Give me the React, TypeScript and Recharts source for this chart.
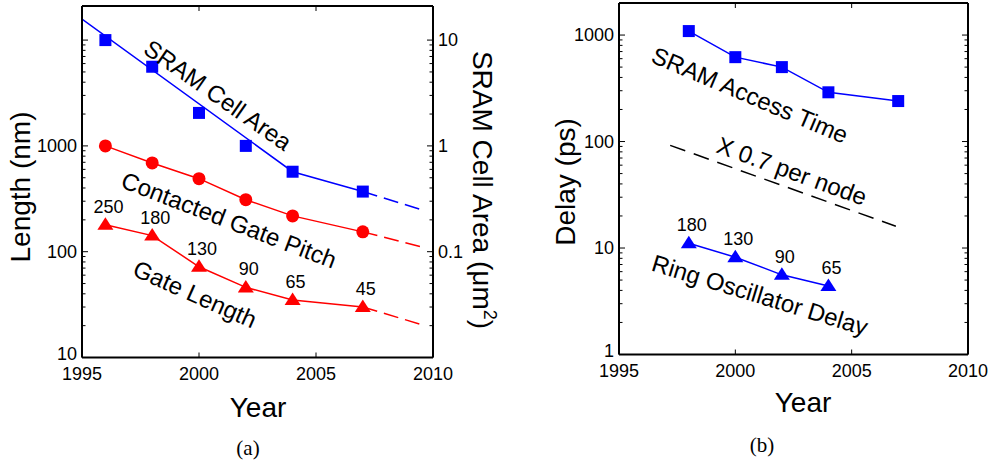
import React from 'react';
import { LineChart, Line, XAxis, YAxis, LabelList } from 'recharts';

const FONT = '"Liberation Sans", Arial, Helvetica, sans-serif';

// (a) scaling of lengths and SRAM cell area
const nodeYears = [1996, 1998, 2000, 2002, 2004, 2007];
const sramCellArea = [10, 5.6, 2.05, 1.0, 0.57, 0.37]; // um^2
const sramFitYears = [1995, 2004, 2007];
const sramFitArea = [15.8, 0.57, 0.37];
const projYears = [2007, 2009.5];
const sramProjArea = [0.37, 0.25];
const gatePitch = [1000, 690, 490, 310, 218, 154]; // nm
const gatePitchProj = [154, 111];
const gateLength = [180, 142, 72, 46, 35, 30]; // nm
const gateLengthProj = [30, 20.5];
const gateNodes = ['250', '180', '130', '90', '65', '45'];

// (b) delays
const accessYears = [1998, 2000, 2002, 2004, 2007];
const sramAccess = [1090, 620, 500, 290, 240]; // ps
const ringYears = [1998, 2000, 2002, 2004];
const ringDelay = [11.1, 8.2, 5.6, 4.4]; // ps
const ringNodes = ['180', '130', '90', '65'];
const trendYears = [1997.2, 2006.9];
const trendDelay = [92, 16];

const yearTicks = [1995, 2000, 2005, 2010];
const lengthLabels = [10, 100, 1000];
const areaLabels = [0.1, 1, 10];
const delayLabels = [1, 10, 100, 1000];

const pts = (xs: number[], ys: number[], nodes?: string[]) =>
  xs.map((x, i) => ({ x, y: ys[i], node: nodes ? nodes[i] : undefined }));

// 1..9 x 10^k between lo and hi, for log axis tick marks
const logTicks = (lo: number, hi: number) => {
  const out: number[] = [];
  for (let k = Math.floor(Math.log10(lo)); k <= Math.ceil(Math.log10(hi)); k++) {
    for (let m = 1; m < 10; m++) {
      const v = Number((m * Math.pow(10, k)).toPrecision(3));
      if (v >= lo - 1e-9 && v <= hi + 1e-9) out.push(v);
    }
  }
  return out;
};

const isDecade = (v: number) => Math.abs(Math.log10(v) - Math.round(Math.log10(v))) < 1e-6;

const YTick = (props: any) => {
  const { x, y, payload, side, labels } = props;
  const v = payload.value;
  const major = isDecade(v);
  const dir = side === 'left' ? 1 : -1;
  // lowest label sits in the corner next to the year labels, nudge it up a little
  const nudge = labels && v === labels[0] && side === 'left' ? -4 : 0;
  return (
    <g>
      <line x1={x} x2={x + dir * (major ? 6 : 3.5)} y1={y} y2={y} stroke="#000" strokeWidth={1} />
      {major && labels && labels.includes(v) && (
        <text x={x - dir * 5} y={y + nudge} textAnchor={side === 'left' ? 'end' : 'start'}
          dominantBaseline="central" fontSize={18} fontFamily={FONT} fill="#000">
          {String(v)}
        </text>
      )}
    </g>
  );
};

const XTick = (props: any) => {
  const { x, y, payload, top } = props;
  const dir = top ? 1 : -1;
  return (
    <g>
      <line x1={x} x2={x} y1={y} y2={y + dir * 5} stroke="#000" strokeWidth={1} />
      {!top && (
        <text x={x} y={y + 22} textAnchor="middle" fontSize={18} fontFamily={FONT} fill="#000">
          {payload.value}
        </text>
      )}
    </g>
  );
};

const square = (p: any) => (
  <rect key={p.index} x={p.cx - 6} y={p.cy - 6} width={12} height={12} fill="#0000ff" />
);
const circle = (p: any) => <circle key={p.index} cx={p.cx} cy={p.cy} r={6.5} fill="#ff0000" />;
const triangle = (color: string) => (p: any) => (
  <polygon key={p.index}
    points={`${p.cx},${p.cy - 7.5} ${p.cx + 8},${p.cy + 5} ${p.cx - 8},${p.cy + 5}`}
    fill={color} />
);

const axisLine = { stroke: '#000', strokeWidth: 2 };
const labelStyle = { fontSize: 18, fontFamily: FONT, fill: '#000' };

// axes get a 1px band (zero-size axes are not drawn); margins absorb it
function PanelA() {
  return (
    <LineChart width={500} height={463} margin={{ top: 5, right: 66, bottom: 104.5, left: 81 }}>
      <XAxis dataKey="x" type="number" domain={[1995, 2010]} ticks={yearTicks} allowDataOverflow
        height={1} tickSize={0} tickMargin={0} interval={0} axisLine={axisLine} tick={<XTick />} />
      <XAxis xAxisId="top" orientation="top" dataKey="x" type="number" domain={[1995, 2010]}
        ticks={yearTicks} allowDataOverflow height={1} tickSize={0} tickMargin={0} interval={0}
        axisLine={axisLine} tick={<XTick top />} />
      <YAxis scale="log" domain={[10, 21000]} ticks={logTicks(10, 10000)} allowDataOverflow
        width={1} tickSize={0} tickMargin={0} interval={0} axisLine={axisLine}
        tick={<YTick side="left" labels={lengthLabels} />} />
      <YAxis yAxisId="area" orientation="right" scale="log" domain={[0.01, 21]}
        ticks={logTicks(0.01, 10)} allowDataOverflow width={1} tickSize={0} tickMargin={0}
        interval={0} axisLine={axisLine} tick={<YTick side="right" labels={areaLabels} />} />

      <Line yAxisId="area" data={pts(sramFitYears, sramFitArea)} dataKey="y" stroke="#0000ff"
        strokeWidth={1.5} dot={false} isAnimationActive={false} />
      <Line yAxisId="area" data={pts(projYears, sramProjArea)} dataKey="y" stroke="#0000ff"
        strokeWidth={1.5} strokeDasharray="15 7" dot={false} isAnimationActive={false} />
      <Line yAxisId="area" data={pts(nodeYears, sramCellArea)} dataKey="y" stroke="none"
        dot={square} isAnimationActive={false} />

      <Line data={pts(nodeYears, gatePitch)} dataKey="y" stroke="#ff0000" strokeWidth={1.5}
        dot={circle} isAnimationActive={false} />
      <Line data={pts(projYears, gatePitchProj)} dataKey="y" stroke="#ff0000" strokeWidth={1.5}
        strokeDasharray="15 7" dot={false} isAnimationActive={false} />

      <Line data={pts(nodeYears, gateLength, gateNodes)} dataKey="y" stroke="#ff0000"
        strokeWidth={1.5} dot={triangle('#ff0000')} isAnimationActive={false}>
        <LabelList dataKey="node" position="top" offset={12} dx={3} {...labelStyle} />
      </Line>
      <Line data={pts(projYears, gateLengthProj)} dataKey="y" stroke="#ff0000" strokeWidth={1.5}
        strokeDasharray="15 7" dot={false} isAnimationActive={false} />
    </LineChart>
  );
}

function PanelB() {
  return (
    <LineChart width={490} height={463} margin={{ top: 2, right: 21, bottom: 107.5, left: 118 }}>
      <XAxis dataKey="x" type="number" domain={[1995, 2010]} ticks={yearTicks} allowDataOverflow
        height={1} tickSize={0} tickMargin={0} interval={0} axisLine={axisLine} tick={<XTick />} />
      <XAxis xAxisId="top" orientation="top" dataKey="x" type="number" domain={[1995, 2010]}
        ticks={yearTicks} allowDataOverflow height={1} tickSize={0} tickMargin={0} interval={0}
        axisLine={axisLine} tick={<XTick top />} />
      <YAxis scale="log" domain={[1, 2000]} ticks={logTicks(1, 1000)} allowDataOverflow
        width={1} tickSize={0} tickMargin={0} interval={0} axisLine={axisLine}
        tick={<YTick side="left" labels={delayLabels} />} />
      <YAxis yAxisId="mirror" orientation="right" scale="log" domain={[1, 2000]}
        ticks={logTicks(1, 1000)} allowDataOverflow width={1} tickSize={0} tickMargin={0}
        interval={0} axisLine={axisLine} tick={<YTick side="right" />} />

      <Line data={pts(accessYears, sramAccess)} dataKey="y" stroke="#0000ff" strokeWidth={1.5}
        dot={square} isAnimationActive={false} />
      <Line data={pts(trendYears, trendDelay)} dataKey="y" stroke="#000" strokeWidth={1.5}
        strokeDasharray="16 9" dot={false} isAnimationActive={false} />
      <Line data={pts(ringYears, ringDelay, ringNodes)} dataKey="y" stroke="#0000ff"
        strokeWidth={1.5} dot={triangle('#0000ff')} isAnimationActive={false}>
        <LabelList dataKey="node" position="top" offset={12} dx={3} {...labelStyle} />
      </Line>
    </LineChart>
  );
}

const Note = ({ x, y, angle, size = 24, children }: any) => (
  <text x={x} y={y} transform={`rotate(${angle} ${x} ${y})`} textAnchor="middle"
    dominantBaseline="central" fontSize={size} fontFamily={FONT} fill="#000">
    {children}
  </text>
);

export default function App() {
  return (
    <div style={{ position: 'absolute', left: 0, top: 0, width: 990, height: 463, background: '#fff' }}>
      <div style={{ position: 'absolute', left: 0, top: 0 }}><PanelA /></div>
      <div style={{ position: 'absolute', left: 500, top: 0 }}><PanelB /></div>
      <svg width={990} height={463} style={{ position: 'absolute', left: 0, top: 0, pointerEvents: 'none' }}>
        {/* axis titles */}
        <text transform="translate(30,187) rotate(-90)" textAnchor="middle" fontSize={28} fontFamily={FONT}>Length (nm)</text>
        <text transform="translate(473,190) rotate(90)" textAnchor="middle" fontSize={28} fontFamily={FONT}>
          SRAM Cell Area (μm<tspan dy={-11} fontSize={18}>2</tspan><tspan dy={11}>)</tspan>
        </text>
        <text transform="translate(575,182) rotate(-90)" textAnchor="middle" fontSize={28} fontFamily={FONT}>Delay (ps)</text>
        <text x={258} y={417} textAnchor="middle" fontSize={28} fontFamily={FONT}>Year</text>
        <text x={803} y={412} textAnchor="middle" fontSize={28} fontFamily={FONT}>Year</text>
        <text x={248} y={455} textAnchor="middle" fontSize={21} fontFamily='"Liberation Serif", "DejaVu Serif", serif'>(a)</text>
        <text x={762} y={452} textAnchor="middle" fontSize={21} fontFamily='"Liberation Serif", "DejaVu Serif", serif'>(b)</text>

        {/* curve annotations */}
        <Note x={218} y={95} angle={35}>SRAM Cell Area</Note>
        <Note x={229} y={220} angle={21}>Contacted Gate Pitch</Note>
        <Note x={195} y={294} angle={24}>Gate Length</Note>
        <Note x={750} y={95} angle={23}>SRAM Access Time</Note>
        <Note x={792} y={171} angle={20}>X 0.7 per node</Note>
        <Note x={760} y={295} angle={17}>Ring Oscillator Delay</Note>
      </svg>
    </div>
  );
}
